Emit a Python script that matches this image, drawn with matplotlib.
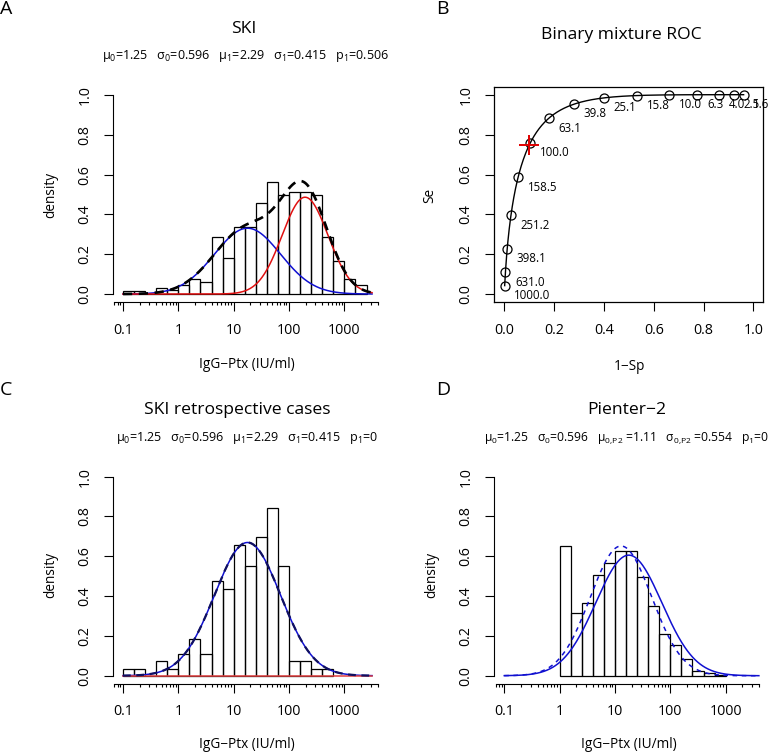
import math

import numpy as np
import matplotlib
matplotlib.use("Agg")  # no display in the sandbox

import matplotlib.pyplot as plt
from matplotlib.ticker import FixedLocator, FixedFormatter, NullFormatter

W, H = 771, 756
FONT = "Open Sans"

plt.rcParams["font.family"] = [FONT, "DejaVu Sans"]
plt.rcParams["mathtext.fontset"] = "custom"
plt.rcParams["mathtext.rm"] = FONT
plt.rcParams["mathtext.it"] = FONT + ":italic"
plt.rcParams["mathtext.default"] = "regular"

# ---- data ----
bin_width = 0.2  # log10 units

# A: SKI histogram, bins start at log10 = -1
ski_start = -1.0
ski_heights = [0.015, 0.015, 0.0, 0.031, 0.02, 0.045, 0.077, 0.061, 0.288, 0.183,
               0.335, 0.335, 0.456, 0.561, 0.499, 0.515, 0.515, 0.499, 0.288, 0.167,
               0.077, 0.045]

# C: SKI retrospective cases, bins start at log10 = -1
retro_start = -1.0
retro_heights = [0.035, 0.035, 0.0, 0.072, 0.035, 0.109, 0.183, 0.109, 0.475, 0.438,
                 0.659, 0.549, 0.695, 0.841, 0.549, 0.072, 0.072, 0.035, 0.035]

# D: Pienter-2, bins start at log10 = 0
p2_start = 0.0
p2_heights = [0.651, 0.315, 0.367, 0.507, 0.565, 0.629, 0.629, 0.498, 0.349, 0.21,
              0.154, 0.082, 0.025, 0.012, 0.005]

# mixture model parameters (log10 IU/ml)
mu0, sd0 = 1.25, 0.596
mu1, sd1 = 2.29, 0.415
p1_ski = 0.506
p1_retro = 0.0
mu0_p2, sd0_p2 = 1.11, 0.554
p2_scale = 0.905  # fraction of Pienter-2 curve mass shown

# B: ROC points, cut-off (IU/ml), 1-Sp, Se
roc_cutoffs = [1000.0, 631.0, 398.1, 251.2, 158.5, 100.0, 63.1, 39.8, 25.1, 15.8,
               10.0, 6.3, 4.0, 2.5, 1.6]
roc_fpr = [0.0017, 0.0047, 0.0118, 0.0269, 0.0555, 0.1042, 0.178, 0.2786, 0.4005,
           0.5335, 0.6624, 0.7749, 0.8622, 0.9231, 0.961]
roc_se = [0.0436, 0.1096, 0.2275, 0.3955, 0.586, 0.758, 0.881, 0.952, 0.984, 0.9957,
          0.9991, 0.9998, 1.0, 1.0, 1.0]
chosen_fpr = [0.1]
chosen_se = [0.75]

x_major = [0.1, 1, 10, 100, 1000]
x_major_labels = ["0.1", "1", "10", "100", "1000"]
y_ticks = [0.0, 0.2, 0.4, 0.6, 0.8, 1.0]
y_tick_labels = ["0.0", "0.2", "0.4", "0.6", "0.8", "1.0"]


def npdf(x, mu, sd):
    return np.exp(-0.5 * ((x - mu) / sd) ** 2) / (sd * math.sqrt(2 * math.pi))


def upper_tail(x, mu, sd):
    z = (np.asarray(x) - mu) / sd
    return np.array([0.5 * math.erfc(v / math.sqrt(2)) for v in z])


fig = plt.figure(figsize=(W / 100, H / 100), dpi=100)


def px_axes(left, top, right, bottom):
    return fig.add_axes([left / W, 1 - bottom / H, (right - left) / W, (bottom - top) / H])


def ftext(x, y, s, **kw):
    kw.setdefault("ha", "center")
    kw.setdefault("va", "center")
    fig.text(x / W, 1 - y / H, s, **kw)


def common_ticks(ax):
    ax.tick_params(which="major", direction="out", length=6.3, width=0.8, pad=8.5,
                   labelsize=10.3)
    ax.tick_params(which="minor", direction="out", length=2.5, width=0.8)
    ax.set_yticks(y_ticks)
    ax.set_yticklabels(y_tick_labels)
    ax.tick_params(axis="y", labelrotation=90)
    for lab in ax.get_yticklabels():
        lab.set_va("center")


def hist_axes(ax):
    ax.set_xscale("log")
    ax.set_xlim(10 ** -1.18, 10 ** 3.68)
    ax.set_ylim(-0.04, 1.04)
    for s in ("top", "right"):
        ax.spines[s].set_visible(False)
    for s in ("left", "bottom"):
        ax.spines[s].set_linewidth(0.8)
    ax.spines["left"].set_bounds(0, 1)
    ax.spines["bottom"].set_bounds(0.07, 4000)
    minor = [k * 10.0 ** d for d in range(-2, 4) for k in range(2, 10)]
    minor = [m for m in minor if 0.069 < m < 4001]
    ax.xaxis.set_major_locator(FixedLocator(x_major))
    ax.xaxis.set_major_formatter(FixedFormatter(x_major_labels))
    ax.xaxis.set_minor_locator(FixedLocator(minor))
    ax.xaxis.set_minor_formatter(NullFormatter())
    common_ticks(ax)


def draw_hist(ax, start, heights):
    edges = start + bin_width * np.arange(len(heights) + 1)
    lefts = 10 ** edges[:-1]
    widths = 10 ** edges[1:] - lefts
    ax.bar(lefts, heights, width=widths, align="edge", fill=False,
           edgecolor="black", linewidth=0.9)


# ---- A: SKI ----
axA = px_axes(113, 87, 382, 302)
hist_axes(axA)
draw_hist(axA, ski_start, ski_heights)
xa = np.linspace(-1, 3.5, 400)
neg_a = (1 - p1_ski) * npdf(xa, mu0, sd0)
pos_a = p1_ski * npdf(xa, mu1, sd1)
axA.plot(10 ** xa, neg_a, color="#1010d0", lw=1.1)
axA.plot(10 ** xa, pos_a, color="#e01010", lw=1.1)
axA.plot(10 ** xa, neg_a + pos_a, color="black", lw=1.9, dashes=(3.5, 2.5))

# ---- C: SKI retrospective ----
axC = px_axes(113, 468.7, 382, 683.7)
hist_axes(axC)
draw_hist(axC, retro_start, retro_heights)
neg_c = (1 - p1_retro) * npdf(xa, mu0, sd0)
pos_c = p1_retro * npdf(xa, mu1, sd1)
axC.plot(10 ** xa, neg_c, color="#1010d0", lw=1.1)
axC.plot(10 ** xa, pos_c, color="#e04040", lw=1.1)
axC.plot(10 ** xa, neg_c + pos_c, color="#101060", lw=1.6, dashes=(3.5, 2.5))

# ---- D: Pienter-2 ----
axD = px_axes(494.3, 468.7, 763.3, 683.7)
hist_axes(axD)
draw_hist(axD, p2_start, p2_heights)
xd = np.linspace(-1, 3.6, 400)
axD.plot(10 ** xd, p2_scale * npdf(xd, mu0, sd0), color="#1010d0", lw=1.1)
axD.plot(10 ** xd, p2_scale * npdf(xd, mu0_p2, sd0_p2), color="#1010d0", lw=1.1,
         dashes=(3, 3))

# ---- B: ROC ----
axB = px_axes(494.3, 86.7, 763.3, 302.3)
axB.set_xlim(-0.04, 1.04)
axB.set_ylim(-0.04, 1.04)
for s in axB.spines.values():
    s.set_linewidth(0.9)
axB.set_xticks(y_ticks)
axB.set_xticklabels(y_tick_labels)
common_ticks(axB)
t_curve = np.linspace(3.0, 0.2, 300)
axB.plot(upper_tail(t_curve, mu0, sd0), upper_tail(t_curve, mu1, sd1),
         color="black", lw=1.0)
axB.plot(roc_fpr, roc_se, linestyle="none", marker="o", markersize=6.5,
         markerfacecolor="none", markeredgecolor="black", markeredgewidth=0.9)
for c, fx, se in zip(roc_cutoffs, roc_fpr, roc_se):
    axB.annotate(f"{c:.1f}", (fx, se), xytext=(7, -7), textcoords="offset points",
                 ha="left", va="center", fontsize=8.3, annotation_clip=False)
axB.plot(chosen_fpr, chosen_se, linestyle="none", marker="+", markersize=14,
         markeredgewidth=1.4, color="#e00000")

# ---- titles and labels ----
SUB_A = r"$\mu_0$=1.25   $\sigma_0$=0.596   $\mu_1$=2.29   $\sigma_1$=0.415   $p_1$="
SUB_D = (r"$\mu_0$=1.25   $\sigma_0$=0.596   $\mu_{0{,}P2}$ =1.11   "
         r"$\sigma_{0{,}P2}$ =0.554   $p_1$=0")
ftext(244, 29, "SKI", fontsize=12.6)
ftext(246, 56, SUB_A + "0.506", fontsize=9)
ftext(247, 365, "IgG\u2212Ptx (IU/ml)", fontsize=9.8)
ftext(51, 195, "density", fontsize=9.8, rotation=90)

ftext(621, 35, "Binary mixture ROC", fontsize=12.6)
ftext(629, 366, "1\u2212Sp", fontsize=9.8)
ftext(430, 195, "Se", fontsize=9.8, rotation=90)

ftext(237, 410, "SKI retrospective cases", fontsize=12.6)
ftext(247, 438, SUB_A + "0", fontsize=9)
ftext(247, 745, "IgG\u2212Ptx (IU/ml)", fontsize=9.8)
ftext(51, 575, "density", fontsize=9.8, rotation=90)

ftext(627, 410, "Pienter\u22122", fontsize=12.6)
ftext(627, 438, SUB_D, fontsize=8.7)
ftext(629, 745, "IgG\u2212Ptx (IU/ml)", fontsize=9.8)
ftext(432, 575, "density", fontsize=9.8, rotation=90)

# panel letters
ftext(6, 9, "A", fontsize=14)
ftext(442, 9, "B", fontsize=14)
ftext(6, 390, "C", fontsize=14)
ftext(443, 390, "D", fontsize=14)

fig.savefig("out.png", dpi=100)
